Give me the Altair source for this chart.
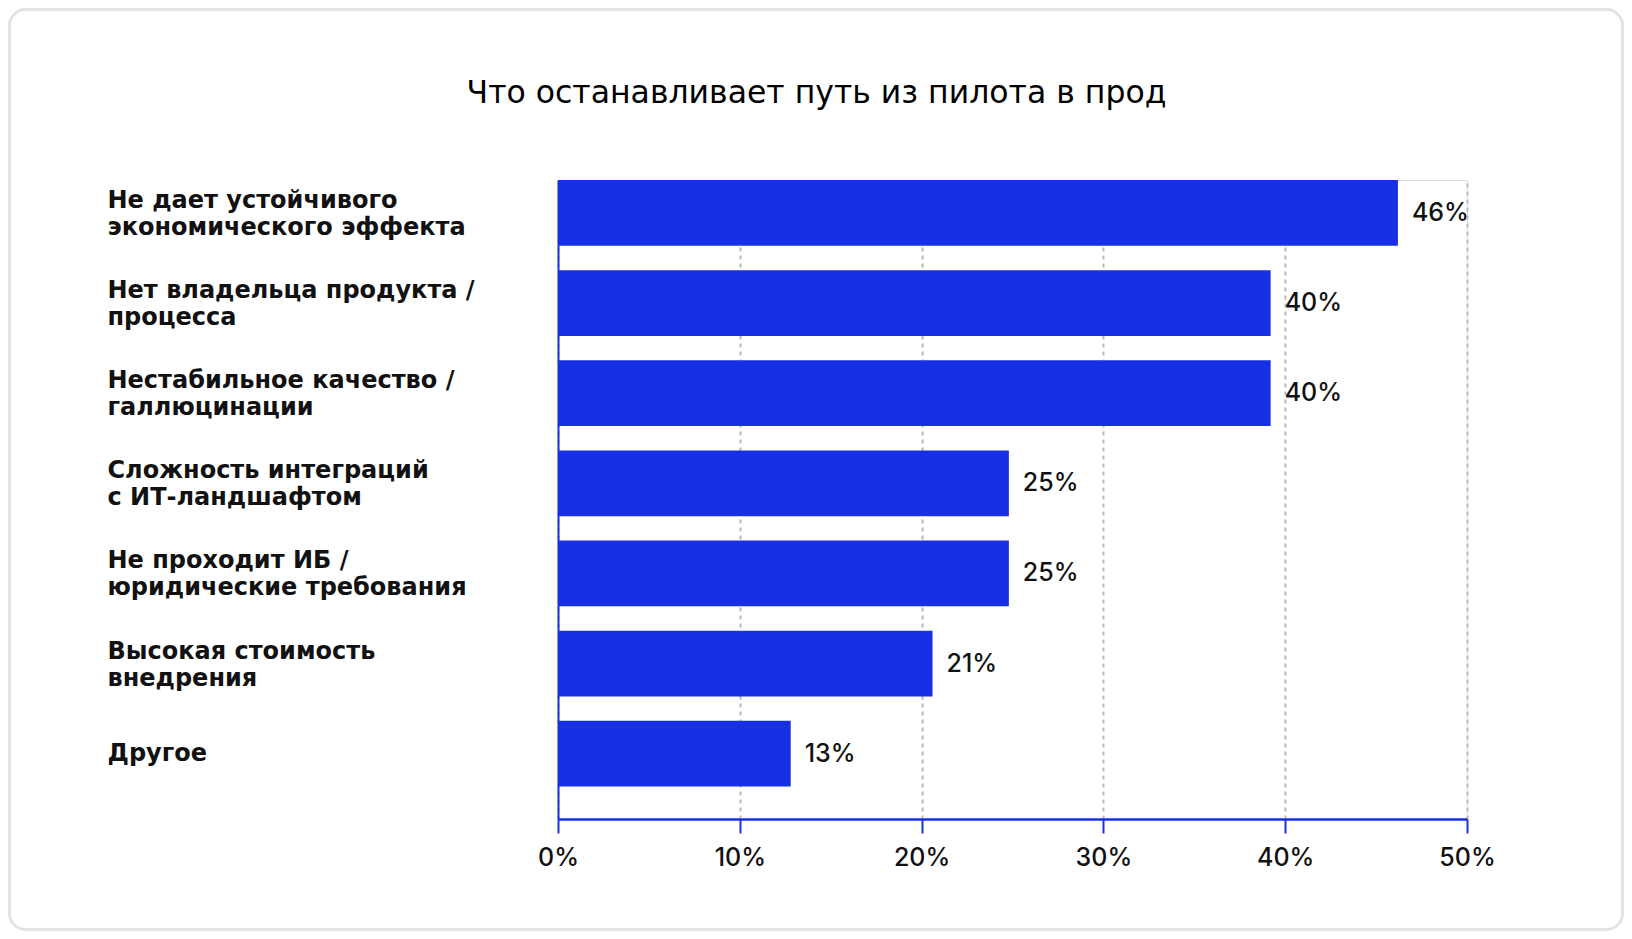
import altair as alt
import pandas as pd

categories = [
    "Не дает устойчивого\nэкономического эффекта",
    "Нет владельца продукта /\nпроцесса",
    "Нестабильное качество /\nгаллюцинации",
    "Сложность интеграций\nс ИТ-ландшафтом",
    "Не проходит ИБ /\nюридические требования",
    "Высокая стоимость\nвнедрения",
    "Другое",
]
values = [46.2, 39.2, 39.2, 24.8, 24.8, 20.6, 12.8]
value_labels = ["46%", "40%", "40%", "25%", "25%", "21%", "13%"]
tick_values = [0, 10, 20, 30, 40, 50]

title_text = "Что останавливает путь из пилота в прод"

BLUE = "#1830E3"
FONT = "Inter"
CAT_FONT = "DejaVu Sans"

df = pd.DataFrame({"cat": categories, "val": values, "lab": value_labels})

W, H = 909, 639
PAD = {"left": 550, "top": 172, "right": 157, "bottom": 112}

y_enc = alt.Y(
    "cat:N",
    sort=categories,
    scale=alt.Scale(paddingInner=0.27, paddingOuter=0.18, align=0),
    axis=alt.Axis(
        title=None,
        labelAlign="left",
        labelPadding=451,
        labelFont=CAT_FONT,
        labelFontSize=24,
        labelFontWeight="bold",
        labelColor="#111111",
        labelLineHeight=27,
        labelBaseline="middle",
        labelExpr="split(datum.label, '\\n')",
        labelOffset={"condition": {"test": "indexof(datum.value, '\\n') >= 0", "value": -12}, "value": 0},
        ticks=False,
        domainColor=BLUE,
        domainWidth=2,
        labelLimit=0,
    ),
)

x_enc = alt.X(
    "val:Q",
    scale=alt.Scale(domain=[0, 50], nice=False),
    axis=alt.Axis(
        title=None,
        values=tick_values,
        labelExpr="datum.value + '%'",
        labelFont=FONT,
        labelFontSize=25,
        labelFontWeight=500,
        labelColor="#111111",
        labelPadding=12,
        tickSize=14,
        tickColor=BLUE,
        tickWidth=2,
        domainColor=BLUE,
        domainWidth=2.5,
        grid=True,
        gridColor="#b8b8b8",
        gridDash=[4, 4],
        gridWidth=2,
        labelFlush=False,
    ),
)

bars = alt.Chart(df).mark_bar(color=BLUE).encode(x=x_enc, y=y_enc)

text = alt.Chart(df).mark_text(
    align="left", baseline="middle", dx=14, font=FONT, fontSize=25,
    fontWeight=500, color="#111111"
).encode(x="val:Q", y=alt.Y("cat:N", sort=categories), text="lab:N")

border = alt.Chart(pd.DataFrame({"k": [0]})).mark_rect(
    fill=None, stroke="#e3e3e3", strokeWidth=3, cornerRadius=16, clip=False
).encode(
    x=alt.value(-PAD["left"] + 1.5),
    x2=alt.value(W + PAD["right"] - 1.5),
    y=alt.value(-PAD["top"] + 1.5),
    y2=alt.value(H + PAD["bottom"] - 1.5),
)

chart = (
    alt.layer(border, bars, text)
    .properties(
        width=W,
        height=H,
        padding=PAD,
        autosize=alt.AutoSizeParams(type="none"),
        title=alt.TitleParams(
            text=title_text,
            font=CAT_FONT,
            fontSize=31.5,
            fontWeight="normal",
            color="#000000",
            anchor="middle",
            frame="group",
            baseline="alphabetic",
            offset=-126,
            dx=-196,
        ),
    )
    .configure_view(stroke=None)
    .configure(background="white")
)

chart.save("out.html", embed_options={"renderer": "svg", "actions": False})
